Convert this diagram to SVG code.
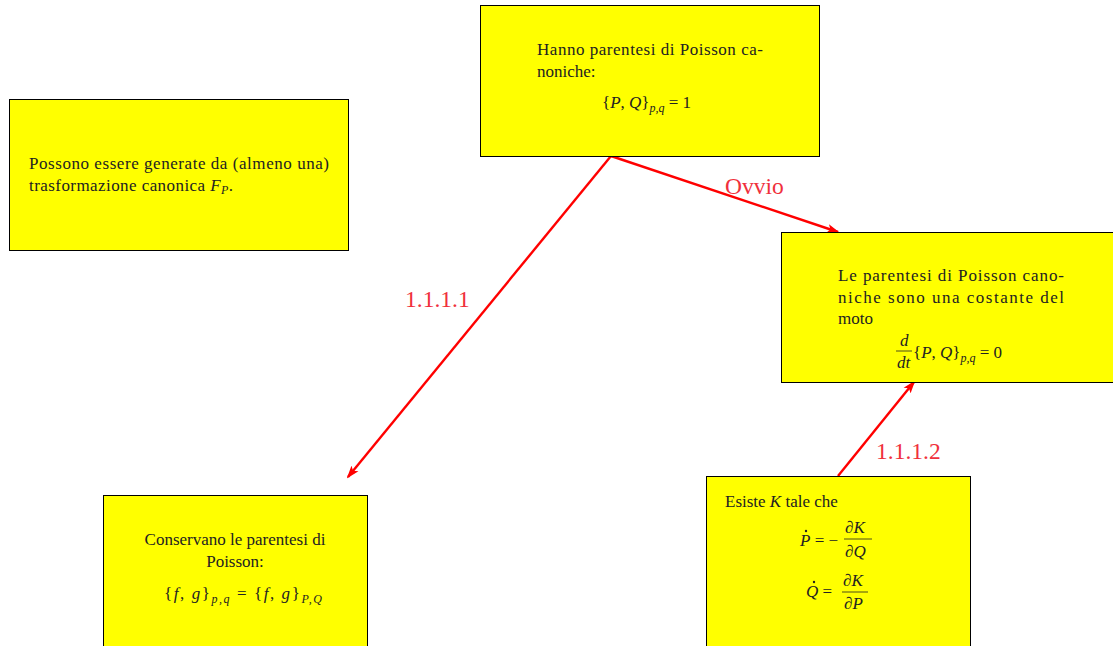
<svg xmlns="http://www.w3.org/2000/svg" width="1113" height="646" viewBox="0 0 1113 646">
<style>
.box{fill:#ffff00;stroke:#000;stroke-width:1}
.t{font-family:"Liberation Serif",serif;font-size:17px;fill:#222}
.i{font-style:italic}
.s{font-size:12px}
.lbl{font-family:"Liberation Serif",serif;font-size:23.5px;fill:#f0303c}
.c{stroke:#ff0000;stroke-width:2.4;fill:none}
</style>
<defs>
<marker id="ah" markerWidth="13" markerHeight="10" refX="11" refY="5" orient="auto" markerUnits="userSpaceOnUse" viewBox="0 0 13 10">
<path d="M0,0.5 L13,5 L0,9.5 L3,5 Z" fill="#ff0000"/>
</marker>
</defs>
<rect width="1113" height="646" fill="#fff"/>
<g id="connectors">
<line class="c" x1="611" y1="156" x2="838" y2="232" marker-end="url(#ah)"/>
<line class="c" x1="611" y1="156" x2="348" y2="477" marker-end="url(#ah)"/>
<line class="c" x1="838" y1="476" x2="914" y2="382" marker-end="url(#ah)"/>
<text class="lbl" x="725" y="194">Ovvio</text>
<text class="lbl" x="405" y="307">1.1.1.1</text>
<text class="lbl" x="876" y="459">1.1.1.2</text>
</g>
<g id="node-hanno">
<rect class="box" x="480.5" y="5.5" width="339" height="151"/>
<text class="t" x="537" y="55" textLength="226">Hanno parentesi di Poisson ca-</text>
<text class="t" x="537" y="77">noniche:</text>
<text class="t" x="602" y="108">{<tspan class="i">P</tspan>, <tspan class="i">Q</tspan>}<tspan class="s i" dy="4">p,q</tspan><tspan dy="-4">  =  1</tspan></text>
</g>
<g id="node-possono">
<rect class="box" x="9.5" y="99.5" width="339" height="151"/>
<text class="t" x="29" y="169" textLength="300">Possono essere generate da (almeno una)</text>
<text class="t" x="29" y="191" textLength="204">trasformazione canonica <tspan class="i">F</tspan><tspan class="s i" dy="3">P</tspan><tspan dy="-3">.</tspan></text>
</g>
<g id="node-costante">
<rect class="box" x="781.5" y="232.5" width="340" height="150"/>
<text class="t" x="838" y="281" textLength="226">Le parentesi di Poisson cano-</text>
<text class="t" x="838" y="303" textLength="226">niche sono una costante del</text>
<text class="t" x="838" y="324">moto</text>
<text class="t i" x="900" y="346">d</text>
<line x1="896" y1="351" x2="912" y2="351" stroke="#222" stroke-width="0.8"/>
<text class="t i" x="897" y="368">dt</text>
<text class="t" x="913" y="358">{<tspan class="i">P</tspan>, <tspan class="i">Q</tspan>}<tspan class="s i" dy="4">p,q</tspan><tspan dy="-4"> = 0</tspan></text>
</g>
<g id="node-conservano">
<rect class="box" x="103.5" y="495.5" width="264" height="160"/>
<text class="t" x="235" y="545" text-anchor="middle">Conservano le parentesi di</text>
<text class="t" x="235" y="567" text-anchor="middle">Poisson:</text>
<text class="t" x="164" y="599" textLength="158">{<tspan class="i">f</tspan>, <tspan class="i">g</tspan>}<tspan class="s i" dy="4">p,q</tspan><tspan dy="-4"> = {</tspan><tspan class="i">f</tspan>, <tspan class="i">g</tspan>}<tspan class="s i" dy="4">P,Q</tspan></text>
</g>
<g id="node-esiste">
<rect class="box" x="706.5" y="476.5" width="264" height="175"/>
<text class="t" x="725" y="507">Esiste <tspan class="i">K</tspan> tale che</text>
<text class="t" x="800" y="546"><tspan class="i">P</tspan> = −</text>
<circle cx="806" cy="531" r="1.2" fill="#222"/>
<text class="t i" x="845" y="533">∂K</text>
<line x1="844" y1="539" x2="872" y2="539" stroke="#222" stroke-width="0.8"/>
<text class="t i" x="845" y="557">∂Q</text>
<text class="t" x="806" y="597"><tspan class="i">Q</tspan> = </text>
<circle cx="814" cy="582" r="1.2" fill="#222"/>
<text class="t i" x="843" y="586">∂K</text>
<line x1="842" y1="592" x2="868" y2="592" stroke="#222" stroke-width="0.8"/>
<text class="t i" x="844" y="609">∂P</text>
</g>
</svg>
